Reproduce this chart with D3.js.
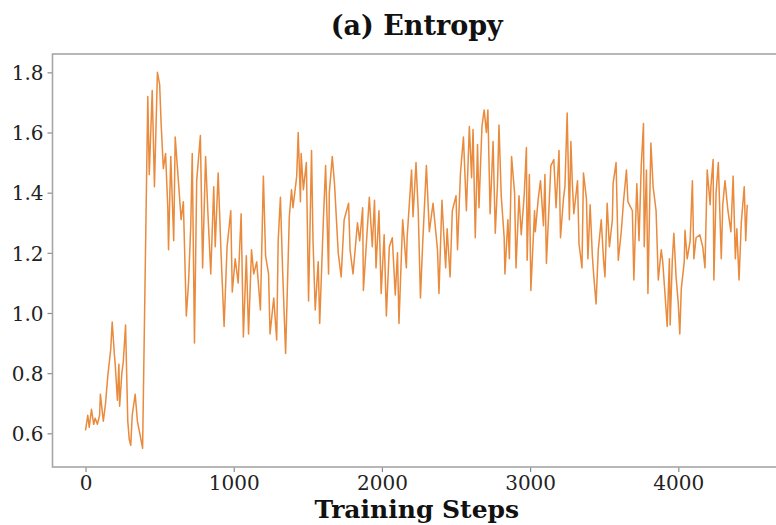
<!DOCTYPE html>
<html>
<head>
<meta charset="utf-8">
<script src="https://cdn.jsdelivr.net/npm/d3@7"></script>
<style>
  body { margin: 0; background: #fff; }
  svg { display: block; }
</style>
</head>
<body>
<svg id="chart" width="776" height="525"></svg>
<script>
// Entropy over training steps

var steps = [
  0, 15, 25, 40, 55, 65, 80, 95, 100, 120, 135, 150, 170, 180, 195, 200, 215, 225, 230, 245,
  255, 270, 285, 295, 305, 315, 335, 350, 370, 385, 420, 430, 450, 465, 485, 500, 510, 525, 540, 555,
  560, 575, 595, 605, 625, 645, 660, 680, 695, 710, 720, 735, 750, 775, 790, 810, 825, 845, 865, 875,
  895, 915, 935, 955, 980, 990, 1010, 1030, 1050, 1065, 1085, 1100, 1120, 1135, 1155, 1180, 1200, 1215, 1235, 1245,
  1270, 1290, 1300, 1315, 1330, 1350, 1375, 1390, 1400, 1425, 1435, 1450, 1455, 1470, 1490, 1505, 1525, 1535, 1550, 1570,
  1580, 1605, 1620, 1640, 1645, 1665, 1680, 1705, 1725, 1745, 1775, 1785, 1805, 1835, 1850, 1870, 1875, 1895, 1915, 1935,
  1950, 1960, 1980, 1995, 2015, 2030, 2050, 2070, 2090, 2105, 2115, 2140, 2165, 2170, 2200, 2210, 2230, 2245, 2260, 2275,
  2300, 2320, 2345, 2375, 2385, 2405, 2430, 2440, 2460, 2475, 2500, 2510, 2530, 2550, 2570, 2590, 2605, 2615, 2630, 2645,
  2655, 2675, 2690, 2705, 2715, 2730, 2750, 2765, 2780, 2790, 2805, 2825, 2830, 2850, 2860, 2875, 2895, 2905, 2925, 2940,
  2960, 2975, 2980, 2995, 3005, 3030, 3035, 3055, 3070, 3090, 3100, 3110, 3130, 3140, 3160, 3175, 3195, 3205, 3225, 3235,
  3250, 3265, 3275, 3285, 3295, 3320, 3330, 3350, 3360, 3380, 3390, 3405, 3420, 3430, 3445, 3460, 3480, 3495, 3505, 3520,
  3535, 3555, 3560, 3580, 3595, 3615, 3630, 3650, 3660, 3690, 3700, 3720, 3735, 3750, 3765, 3770, 3785, 3795, 3815, 3830,
  3850, 3865, 3885, 3895, 3910, 3925, 3940, 3945, 3960, 3970, 3985, 4000, 4010, 4020, 4040, 4045, 4060, 4080, 4095, 4105,
  4120, 4145, 4165, 4180, 4195, 4215, 4220, 4235, 4240, 4255, 4270, 4290, 4300, 4315, 4335, 4355, 4370, 4385, 4395, 4410,
  4425, 4445, 4455, 4465
];

var entropy = [
  0.61, 0.66, 0.62, 0.68, 0.63, 0.65, 0.63, 0.66, 0.73, 0.64, 0.70, 0.79, 0.88, 0.97, 0.86, 0.83, 0.71, 0.83, 0.69, 0.80,
  0.84, 0.96, 0.64, 0.58, 0.56, 0.66, 0.73, 0.64, 0.59, 0.55, 1.72, 1.46, 1.74, 1.42, 1.80, 1.76, 1.63, 1.48, 1.53, 1.35,
  1.21, 1.52, 1.24, 1.585, 1.45, 1.31, 1.37, 0.99, 1.10, 1.29, 1.53, 0.90, 1.44, 1.59, 1.15, 1.52, 1.34, 1.13, 1.42, 1.22,
  1.465, 1.19, 0.955, 1.22, 1.34, 1.07, 1.18, 1.10, 1.33, 0.92, 1.19, 0.93, 1.21, 1.13, 1.17, 1.01, 1.455, 1.19, 1.13, 0.93,
  1.05, 0.91, 1.24, 1.385, 1.14, 0.865, 1.32, 1.41, 1.35, 1.455, 1.60, 1.37, 1.53, 1.41, 1.50, 1.04, 1.54, 1.24, 1.01, 1.17,
  0.965, 1.31, 1.49, 1.13, 1.40, 1.52, 1.43, 1.20, 1.12, 1.31, 1.365, 1.21, 1.13, 1.30, 1.24, 1.35, 1.075, 1.23, 1.385, 1.22,
  1.375, 1.15, 1.34, 1.065, 1.26, 0.99, 1.22, 1.25, 1.06, 1.20, 0.965, 1.31, 1.15, 1.25, 1.475, 1.32, 1.50, 1.34, 1.05, 1.23,
  1.49, 1.27, 1.365, 1.21, 1.065, 1.375, 1.15, 1.28, 1.12, 1.34, 1.39, 1.21, 1.465, 1.585, 1.34, 1.62, 1.45, 1.61, 1.25, 1.56,
  1.35, 1.62, 1.675, 1.60, 1.675, 1.33, 1.57, 1.265, 1.43, 1.625, 1.39, 1.25, 1.13, 1.31, 1.18, 1.52, 1.40, 1.15, 1.39, 1.26,
  1.39, 1.55, 1.175, 1.46, 1.075, 1.34, 1.27, 1.38, 1.44, 1.29, 1.46, 1.165, 1.38, 1.49, 1.51, 1.35, 1.54, 1.25, 1.38, 1.42,
  1.665, 1.31, 1.57, 1.43, 1.33, 1.44, 1.23, 1.15, 1.465, 1.38, 1.18, 1.36, 1.19, 1.12, 1.03, 1.21, 1.31, 1.18, 1.12, 1.365,
  1.22, 1.31, 1.43, 1.50, 1.175, 1.27, 1.37, 1.475, 1.37, 1.34, 1.11, 1.43, 1.24, 1.49, 1.63, 1.22, 1.475, 1.065, 1.565, 1.42,
  1.34, 1.11, 1.21, 1.17, 1.065, 0.955, 1.18, 0.96, 1.18, 1.265, 1.12, 1.03, 0.93, 1.08, 1.17, 1.275, 1.18, 1.24, 1.44, 1.18,
  1.25, 1.26, 1.22, 1.15, 1.475, 1.36, 1.42, 1.51, 1.11, 1.40, 1.50, 1.18, 1.36, 1.44, 1.34, 1.27, 1.455, 1.18, 1.28, 1.11,
  1.30, 1.42, 1.24, 1.36
];

var xTicks = [0, 1000, 2000, 3000, 4000];
var yTicks = [0.6, 0.8, 1.0, 1.2, 1.4, 1.6, 1.8];

var titleText = '(a) Entropy';
var xLabelText = 'Training Steps';

var svg = d3.select('#chart');
var serif = "'DejaVu Serif', serif";

// axes box (right edge falls just outside the picture, as in the reference)
var boxLeft = 52.5, boxRight = 781, boxTop = 54, boxBottom = 467;

var x = d3.scaleLinear().domain([-223, 4693]).range([boxLeft, boxRight]);
var y = d3.scaleLinear().domain([0.488, 1.861]).range([boxBottom, boxTop]);

// Axis with ticks
var xAxis = svg.append('g')
    .attr('transform', 'translate(0,' + boxBottom + ')')
    .call(d3.axisBottom(x).tickValues(xTicks).tickFormat(d3.format('d')).tickSize(5).tickPadding(4));

var yAxis = svg.append('g')
    .attr('transform', 'translate(' + boxLeft + ',0)')
    .call(d3.axisLeft(y).tickValues(yTicks).tickFormat(d3.format('.1f')).tickSize(5).tickPadding(4));

[xAxis, yAxis].forEach(function(g) {
	g.select('.domain').remove();
	g.selectAll('.tick line').attr('stroke', '#8c8c8c').attr('stroke-width', 1.2);
	g.selectAll('.tick text')
	    .style('font-family', serif)
	    .style('font-size', '20px')
	    .attr('fill', '#222');
});

yAxis.selectAll('.tick text').attr('dy', '0.36em');

// the series
var line = d3.line()
    .x(function(d, i) { return x(steps[i]); })
    .y(function(d) { return y(d); });

svg.append('path')
    .datum(entropy)
    .attr('d', line)
    .attr('fill', 'none')
    .attr('stroke', '#e98a3c')
    .attr('stroke-width', 1.5)
    .attr('stroke-linejoin', 'round');

// spines
svg.append('rect')
    .attr('x', boxLeft)
    .attr('y', boxTop)
    .attr('width', boxRight - boxLeft)
    .attr('height', boxBottom - boxTop)
    .attr('fill', 'none')
    .attr('stroke', '#a6a6a6')
    .attr('stroke-width', 1.6);

// Title
svg.append('text')
    .attr('x', (boxLeft + boxRight) / 2)
    .attr('y', 35)
    .attr('text-anchor', 'middle')
    .style('font-family', serif)
    .style('font-weight', 'bold')
    .style('font-size', '27px')
    .attr('fill', '#111')
    .text(titleText);

// x label
svg.append('text')
    .attr('x', (boxLeft + boxRight) / 2)
    .attr('y', 518)
    .attr('text-anchor', 'middle')
    .style('font-family', serif)
    .style('font-weight', 'bold')
    .style('font-size', '25px')
    .attr('fill', '#111')
    .text(xLabelText);
</script>
</body>
</html>
